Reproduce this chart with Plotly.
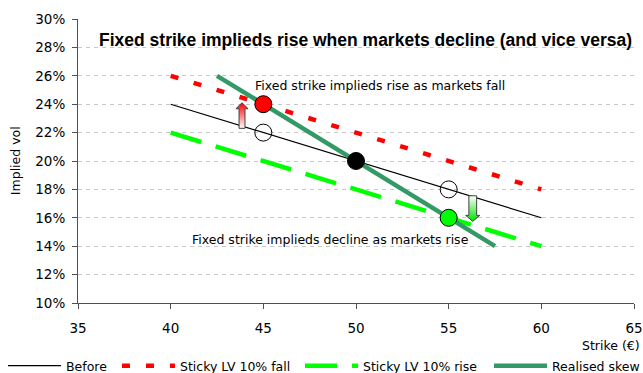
import plotly.graph_objects as go

# --- data -------------------------------------------------------------
strikes = [40, 60]
vol_before = [24, 16]
vol_fall = [26, 18]
vol_rise = [22, 14]

realised_strikes = [42.5, 57.5]
vol_realised = [26, 14]

# highlighted points
open_x = [45, 55]
open_y = [22, 18]
atm_x = [50]
atm_y = [20]
fall_pt_x = [45]
fall_pt_y = [24]
rise_pt_x = [55]
rise_pt_y = [16]

# block arrows: strike position, start vol, end vol
arrow_x = [43.85, 56.3]
arrow_from = [22.3, 17.55]
arrow_to = [24.1, 15.75]

x_ticks = [35, 40, 45, 50, 55, 60, 65]
y_ticks = [10, 12, 14, 16, 18, 20, 22, 24, 26, 28, 30]

FONT = "DejaVu Sans"
RED = "#FF0000"
LIME = "#00FF00"
SEA = "#339966"

fig = go.Figure()

fig.add_trace(go.Scatter(
    x=strikes, y=vol_before, mode="lines", name="Before",
    line=dict(color="black", width=1.2), legend="legend"))
fig.add_trace(go.Scatter(
    x=strikes, y=vol_fall, mode="lines", name="Sticky LV 10% fall",
    line=dict(color=RED, width=4.5, dash="8px,16px"), legend="legend2"))
fig.add_trace(go.Scatter(
    x=strikes, y=vol_rise, mode="lines", name="Sticky LV 10% rise",
    line=dict(color=LIME, width=4.5, dash="32px,15px"), legend="legend3"))
fig.add_trace(go.Scatter(
    x=realised_strikes, y=vol_realised, mode="lines", name="Realised skew",
    line=dict(color=SEA, width=4.5), legend="legend4"))


def block_arrow(xc, y0, y1, body, head, head_h):
    d = 1 if y1 > y0 else -1
    yb = y1 - d * head_h
    xs = [xc - body, xc - body, xc - head, xc, xc + head, xc + body, xc + body, xc - body]
    ys = [y0, yb, yb, y1, yb, yb, y0, y0]
    return xs, ys


# up arrow (red gradient), down arrow (green gradient)
arrow_styles = [
    dict(body=0.16, head=0.33, head_h=0.42,
         scale=[[0, "#FFFFFF"], [1, "#FF0000"]]),
    dict(body=0.21, head=0.38, head_h=0.42,
         scale=[[0, "#00E000"], [1, "#FFFFFF"]]),
]
for xc, y0, y1, st in zip(arrow_x, arrow_from, arrow_to, arrow_styles):
    xs, ys = block_arrow(xc, y0, y1, st["body"], st["head"], st["head_h"])
    fig.add_trace(go.Scatter(
        x=xs, y=ys, mode="lines", fill="toself",
        fillgradient=dict(type="vertical", colorscale=st["scale"]),
        line=dict(color="#404040", width=1), showlegend=False,
        hoverinfo="skip"))

marker_line = dict(color="black", width=1)
fig.add_trace(go.Scatter(
    x=open_x, y=open_y, mode="markers", showlegend=False,
    marker=dict(size=17, color="rgba(0,0,0,0)", line=marker_line)))
fig.add_trace(go.Scatter(
    x=atm_x, y=atm_y, mode="markers", showlegend=False,
    marker=dict(size=17, color="black", line=marker_line)))
fig.add_trace(go.Scatter(
    x=fall_pt_x, y=fall_pt_y, mode="markers", showlegend=False,
    marker=dict(size=17, color=RED, line=marker_line)))
fig.add_trace(go.Scatter(
    x=rise_pt_x, y=rise_pt_y, mode="markers", showlegend=False,
    marker=dict(size=17, color=LIME, line=marker_line)))

legend_common = dict(
    orientation="h", y=-0.222, yanchor="middle", xanchor="left",
    font=dict(family=FONT, size=12.5, color="black"),
    bgcolor="rgba(0,0,0,0)", itemwidth=53, borderwidth=0,
    tracegroupgap=0)

fig.update_layout(
    width=643, height=373,
    margin=dict(l=78, r=9, t=19, b=70, autoexpand=False),
    paper_bgcolor="white", plot_bgcolor="white",
    font=dict(family=FONT, color="black"),
    legend=dict(x=-0.1349, **legend_common),
    legend2=dict(x=0.0701, **legend_common),
    legend3=dict(x=0.3993, **legend_common),
    legend4=dict(x=0.7392, **legend_common),
    xaxis=dict(
        range=[35, 65], tickvals=x_ticks, ticktext=[str(v) for v in x_ticks],
        showgrid=False, zeroline=False,
        showline=True, linecolor="#505050", linewidth=1,
        ticks="outside", ticklen=5, tickcolor="#505050",
        ticklabelstandoff=8,
        tickfont=dict(family=FONT, size=13.5, color="black")),
    yaxis=dict(
        range=[10, 30], tickvals=y_ticks, ticktext=[f"{v}%" for v in y_ticks],
        showgrid=True, gridcolor="#C8C8C8", griddash="4px,4px", gridwidth=1,
        zeroline=False,
        showline=True, linecolor="#505050", linewidth=1,
        ticks="outside", ticklen=5, tickcolor="#505050",
        ticklabelstandoff=4,
        tickfont=dict(family=FONT, size=13.5, color="black")),
    annotations=[
        dict(text="<b>Fixed strike implieds rise when markets decline (and vice versa)</b>",
             xref="paper", yref="paper", x=0.517, y=0.926,
             xanchor="center", yanchor="middle", showarrow=False,
             font=dict(family="Liberation Sans", size=17.5, color="black")),
        dict(text="Fixed strike implieds rise as markets fall",
             xref="x", yref="y", x=44.44, y=25.35,
             xanchor="left", yanchor="middle", showarrow=False,
             font=dict(family=FONT, size=12.5, color="black")),
        dict(text="Fixed strike implieds decline as markets rise",
             xref="x", yref="y", x=56.19, y=14.49,
             xanchor="right", yanchor="middle", showarrow=False,
             font=dict(family=FONT, size=12.5, color="black")),
        dict(text="Implied vol", xref="paper", yref="paper",
             x=-0.113, y=0.5, xanchor="center", yanchor="middle",
             textangle=-90, showarrow=False,
             font=dict(family=FONT, size=12.5, color="black")),
        dict(text="Strike (€)", xref="paper", yref="paper",
             x=1.014, y=-0.148, xanchor="right", yanchor="middle",
             showarrow=False,
             font=dict(family=FONT, size=12.5, color="black")),
    ],
)

fig.write_html("out.html")
